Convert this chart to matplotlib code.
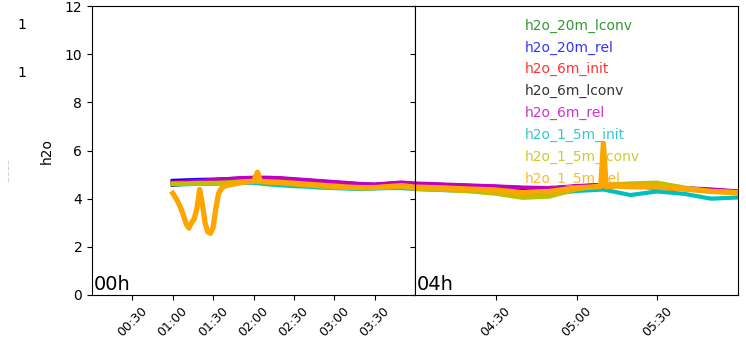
import matplotlib
matplotlib.use("Agg")
import matplotlib.pyplot as plt
from matplotlib.ticker import FixedLocator, FuncFormatter
from matplotlib.lines import Line2D

# time grid in minutes since 00:00
minutes = [60, 70, 80, 90, 100, 110, 120, 130, 140, 150, 160, 170, 180, 190, 200,
           210, 220, 230, 240, 250, 260, 270, 280, 290, 300, 310, 320, 330, 340, 350, 360]

h2o_20m_lconv = [4.68, 4.70, 4.72, 4.74, 4.77, 4.80, 4.82, 4.82, 4.80, 4.76, 4.72, 4.68, 4.64, 4.60, 4.56,
                 4.55, 4.58, 4.62, 4.58, 4.54, 4.50, 4.46, 4.40, 4.40, 4.48, 4.54, 4.52, 4.46, 4.40, 4.34, 4.26]
h2o_20m_rel = [4.74, 4.76, 4.78, 4.79, 4.81, 4.83, 4.85, 4.85, 4.83, 4.79, 4.75, 4.71, 4.67, 4.63, 4.59,
               4.57, 4.61, 4.65, 4.61, 4.57, 4.53, 4.49, 4.44, 4.42, 4.50, 4.56, 4.54, 4.48, 4.42, 4.36, 4.28]
h2o_6m_init = [4.66, 4.69, 4.72, 4.75, 4.78, 4.82, 4.84, 4.84, 4.82, 4.78, 4.74, 4.70, 4.66, 4.62, 4.58,
               4.56, 4.60, 4.64, 4.60, 4.56, 4.52, 4.48, 4.43, 4.42, 4.50, 4.56, 4.54, 4.48, 4.42, 4.36, 4.28]
h2o_6m_lconv = [4.58, 4.62, 4.66, 4.70, 4.76, 4.80, 4.82, 4.82, 4.80, 4.76, 4.72, 4.68, 4.64, 4.60, 4.56,
                4.54, 4.58, 4.62, 4.58, 4.54, 4.50, 4.46, 4.40, 4.40, 4.48, 4.54, 4.52, 4.46, 4.40, 4.34, 4.26]
h2o_6m_rel = [4.66, 4.70, 4.74, 4.77, 4.81, 4.85, 4.87, 4.87, 4.85, 4.81, 4.77, 4.73, 4.69, 4.65, 4.61,
              4.59, 4.63, 4.67, 4.63, 4.59, 4.55, 4.51, 4.46, 4.44, 4.52, 4.58, 4.56, 4.50, 4.44, 4.38, 4.30]
h2o_1_5m_init = [4.60, 4.60, 4.62, 4.62, 4.64, 4.66, 4.66, 4.60, 4.56, 4.52, 4.50, 4.46, 4.44, 4.42, 4.40,
                 4.42, 4.44, 4.44, 4.40, 4.36, 4.32, 4.28, 4.15, 4.20, 4.32, 4.38, 4.15, 4.30, 4.20, 4.00, 4.05]
h2o_1_5m_lconv = [4.62, 4.62, 4.64, 4.64, 4.66, 4.70, 4.72, 4.68, 4.64, 4.60, 4.56, 4.52, 4.48, 4.46, 4.44,
                  4.46, 4.48, 4.50, 4.42, 4.38, 4.32, 4.22, 4.05, 4.10, 4.40, 4.55, 4.62, 4.65, 4.45, 4.30, 4.25]

orange_minutes = [60, 62, 64, 66, 68, 70, 72, 74, 76, 78, 80, 82, 84, 86, 88, 90, 92, 94, 96, 98, 100,
                  105, 110, 115, 120, 123, 125, 130, 140, 150, 160, 170, 180, 190, 200, 210, 220,
                  230, 240, 250, 260, 270, 280, 285, 290, 300, 305, 309, 310, 311, 315, 320, 330, 340, 350, 360]
h2o_1_5m_rel = [4.22, 4.05, 3.85, 3.60, 3.30, 2.95, 2.78, 3.00, 3.17, 3.60, 4.38, 3.80, 3.00, 2.62, 2.56,
                2.80, 3.60, 4.21, 4.42, 4.50, 4.55, 4.60, 4.66, 4.70, 4.72, 5.10, 4.72, 4.70, 4.68, 4.64,
                4.60, 4.56, 4.52, 4.48, 4.46, 4.46, 4.50, 4.54, 4.48, 4.45, 4.40, 4.36, 4.25, 4.28, 4.30,
                4.45, 4.48, 4.50, 6.30, 4.50, 4.52, 4.50, 4.48, 4.40, 4.30, 4.25]

labels = ["h2o_20m_lconv", "h2o_20m_rel", "h2o_6m_init", "h2o_6m_lconv",
          "h2o_6m_rel", "h2o_1_5m_init", "h2o_1_5m_lconv", "h2o_1_5m_rel"]
colors = ["g", "b", "r", "k", "m", "c", "y", "orange"]
widths = [3, 3, 3, 3, 3, 3, 3.5, 3.8]
series = [(minutes, h2o_20m_lconv), (minutes, h2o_20m_rel), (minutes, h2o_6m_init),
          (minutes, h2o_6m_lconv), (minutes, h2o_6m_rel), (minutes, h2o_1_5m_init),
          (minutes, h2o_1_5m_lconv), (orange_minutes, h2o_1_5m_rel)]

fig = plt.figure(figsize=(7.46, 3.5), dpi=100)
L, R, B, T = 92 / 746, 738 / 746, 1 - 295 / 350, 1 - 6 / 350
mid = 415 / 746
ax1 = fig.add_axes([L, B, mid - L, T - B])
ax2 = fig.add_axes([mid, B, R - mid, T - B], sharey=ax1)

handles = []
for ax in (ax1, ax2):
    for (tm, vals), lab, col, w in zip(series, labels, colors, widths):
        x = [m / 60 for m in tm]
        ln, = ax.plot(x, vals, color=col, lw=w, label=lab)
        if ax is ax2:
            handles.append(ln)

def fmt(v, pos):
    m = int(round(v * 60))
    return f"{m // 60:02d}:{m % 60:02d}"

ax1.set_xlim(0, 4)
ax2.set_xlim(4, 6)
ax1.set_ylim(0, 12)
ax1.set_yticks([0, 2, 4, 6, 8, 10, 12])
ax1.xaxis.set_major_locator(FixedLocator([0.5, 1, 1.5, 2, 2.5, 3, 3.5]))
ax2.xaxis.set_major_locator(FixedLocator([4.5, 5, 5.5]))
for ax in (ax1, ax2):
    ax.xaxis.set_major_formatter(FuncFormatter(fmt))
    plt.setp(ax.get_xticklabels(), rotation=45, fontsize=9)
plt.setp(ax2.get_yticklabels(), visible=False)
ax1.set_ylabel("h2o", fontsize=10, labelpad=8)

ax1.text(0.005, 0.005, "00h", transform=ax1.transAxes, fontsize=14, ha="left", va="bottom")
ax2.text(0.005, 0.005, "04h", transform=ax2.transAxes, fontsize=14, ha="left", va="bottom")

leg = ax2.legend(handles=handles, loc="upper left", bbox_to_anchor=(0.30, 1.0),
                 frameon=False, handlelength=0, handletextpad=0, fontsize=10,
                 labelspacing=0.56)
for txt, col in zip(leg.get_texts(), colors):
    txt.set_color(col)
    txt.set_alpha(0.8)
for h in leg.legend_handles:
    h.set_visible(False)

fig.text(22 / 746, 1 - 25 / 350, "1", fontsize=10, ha="center", va="center")
fig.text(22 / 746, 1 - 73 / 350, "1", fontsize=10, ha="center", va="center")
fig.add_artist(Line2D([8 / 746, 8 / 746], [1 - 160 / 350, 1 - 183 / 350],
                      transform=fig.transFigure, color="lightgrey", lw=0.8, ls="--"))

fig.savefig("out.png", dpi=100)
